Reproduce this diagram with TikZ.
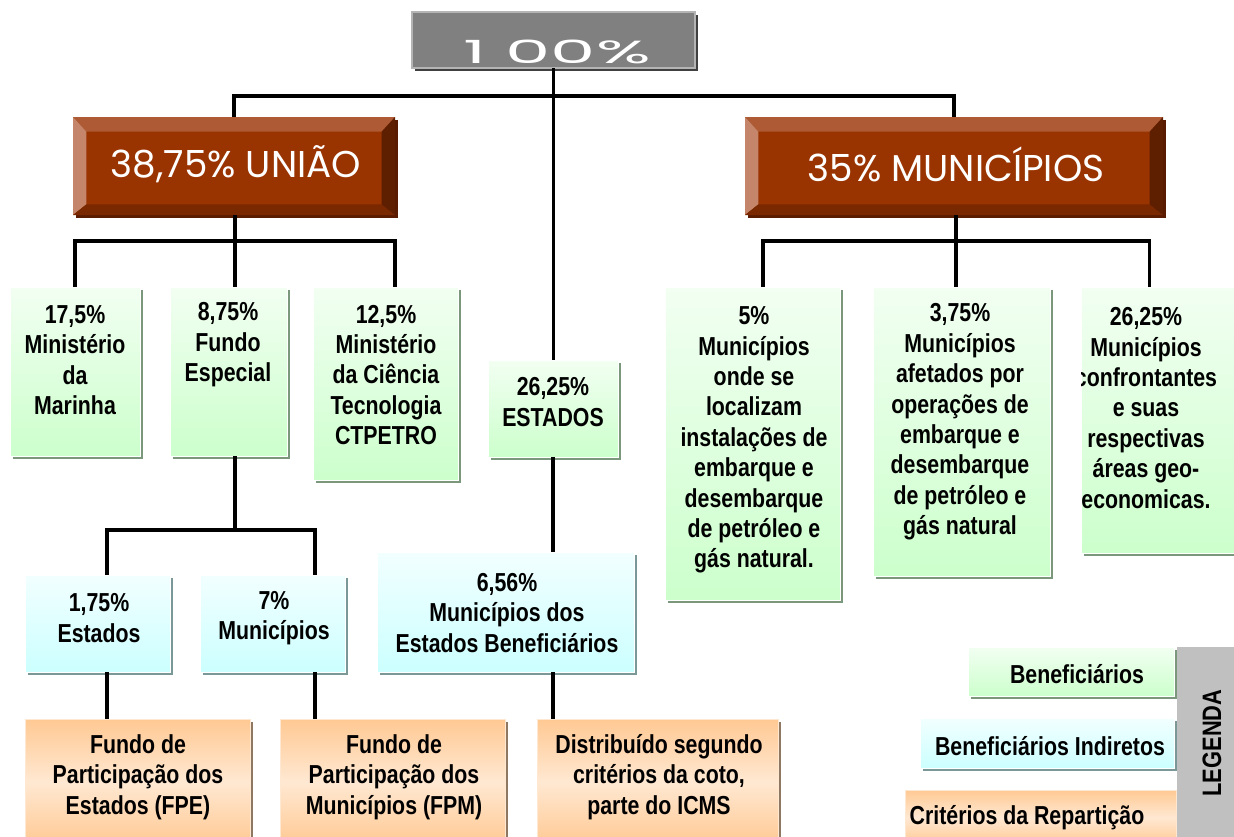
\documentclass[tikz,border=0pt]{standalone}
\usepackage{fontspec}
\usepackage{graphicx}
\setmainfont{Liberation Sans}[FakeStretch=0.82]
\newfontfamily\headfont{Poppins}
\usetikzlibrary{positioning,fit,shadows}

\definecolor{brownFace}{HTML}{993300}
\definecolor{brownTop}{HTML}{AE5A34}
\definecolor{brownLeft}{HTML}{C4856A}
\definecolor{brownBot}{HTML}{7A2800}
\definecolor{brownRight}{HTML}{5E1F00}
\definecolor{brownShadow}{HTML}{5A1C00}
\definecolor{headGray}{HTML}{808080}
\definecolor{headEdge}{HTML}{B4B4B4}
\definecolor{benefTop}{HTML}{F2FFF2}
\definecolor{benefBot}{HTML}{CCFFCC}
\definecolor{benefShadow}{HTML}{7C987C}
\definecolor{indirTop}{HTML}{F2FFFF}
\definecolor{indirBot}{HTML}{CCFFFF}
\definecolor{indirShadow}{HTML}{7A9898}
\definecolor{critTop}{HTML}{FFC993}
\definecolor{critMid}{HTML}{FFE8D2}
\definecolor{critShadow}{HTML}{8E7862}
\definecolor{legGray}{HTML}{C0C0C0}

\newcommand\pbb{path picture bounding box}

\tikzset{
  boxbase/.style={inner sep=0pt, outer sep=0pt},
  benef/.style={boxbase, top color=benefTop, bottom color=benefBot, draw=white, line width=0.6pt,
    drop shadow={shadow xshift=2.2pt, shadow yshift=-2.2pt, fill=benefShadow, opacity=1}},
  indir/.style={boxbase, top color=indirTop, bottom color=indirBot, draw=white, line width=0.6pt,
    drop shadow={shadow xshift=2.2pt, shadow yshift=-2.2pt, fill=indirShadow, opacity=1}},
  crit/.style={boxbase, top color=critTop, bottom color=critTop, middle color=critMid, draw=critMid, line width=0.6pt,
    drop shadow={shadow xshift=2.2pt, shadow yshift=-2.2pt, fill=critShadow, opacity=1}},
  headbox/.style={boxbase, fill=headGray, draw=headEdge, line width=1.5pt,
    drop shadow={shadow xshift=2.2pt, shadow yshift=-2.2pt, fill=black!75, opacity=1}},
  bevel/.style={boxbase, fill=brownFace,
    drop shadow={shadow xshift=2.2pt, shadow yshift=-2.2pt, fill=brownShadow, opacity=1},
    path picture={
      \fill[brownTop] (\pbb.north west) -- (\pbb.north east) -- ([shift={(-10pt,-11pt)}]\pbb.north east) -- ([shift={(10pt,-11pt)}]\pbb.north west) -- cycle;
      \fill[brownLeft] (\pbb.north west) -- ([shift={(10pt,-11pt)}]\pbb.north west) -- ([shift={(10pt,8pt)}]\pbb.south west) -- (\pbb.south west) -- cycle;
      \fill[brownBot] (\pbb.south west) -- ([shift={(10pt,8pt)}]\pbb.south west) -- ([shift={(-10pt,8pt)}]\pbb.south east) -- (\pbb.south east) -- cycle;
      \fill[brownRight] (\pbb.south east) -- ([shift={(-10pt,8pt)}]\pbb.south east) -- ([shift={(-10pt,-11pt)}]\pbb.north east) -- (\pbb.north east) -- cycle;
    }},
  txt/.style={font=\bfseries\fontsize{19.5}{22.8}\selectfont, align=center, inner sep=0pt},
  headtxt/.style={font=\headfont\fontsize{28}{32}\selectfont, text=white, inner sep=0pt},
  link/.style={line width=2.6pt},
}

\begin{document}
\begin{tikzpicture}[x=0.75pt, y=-0.75pt]
\useasboundingbox (0,0) rectangle (1234,836);

% cabecalho
\node[headbox, fit={(412,12) (695,68)}] (total) {};
\node[headtxt, font=\headfont\fontsize{24}{26}\selectfont] (totaltxt) at (557,52) {\scalebox{2.25}[1]{1 00\%}};

\node[bevel, fit={(73,117) (395,215)}] (uniao) {};
\node[headtxt] (uniaotxt) at (236,164) {38,75\% UNIÃO};
\node[bevel, fit={(745,117) (1163,215)}] (munic) {};
\node[headtxt] (municTxt) at (956,164) {35\% MUNICÍPIOS};

% beneficiarios
\node[benef, fit={(10,287) (140,456)}] (marinha) {};
\node[txt] (marinhaTxt) at (75,360) {17,5\%\\Ministério\\da\\Marinha};
\node[benef, fit={(170,287) (287,456)}] (especial) {};
\node[txt] (especialTxt) at (228,345) {8,75\%\\Fundo\\Especial};
\node[benef, fit={(313,287) (458,480)}] (ciencia) {};
\node[txt] (cienciaTxt) at (386,375) {12,5\%\\Ministério\\da Ciência\\Tecnologia\\CTPETRO};
\node[benef, fit={(488,360) (618,457)}] (estados) {};
\node[txt] (estadosTxt) at (553,402) {26,25\%\\ESTADOS};
\node[benef, fit={(665,287) (840,600)}] (mun5) {};
\node[txt] (mun5Txt) at (754,440) {5\%\\Municípios\\onde se\\localizam\\instalações de\\embarque e\\desembarque\\de petróleo e\\gás natural.};
\node[benef, fit={(873,287) (1050,576)}] (mun375) {};
\node[txt] (mun375Txt) at (960,422) {3,75\%\\Municípios\\afetados por\\operações de\\embarque e\\desembarque\\de petróleo e\\gás natural};
\node[benef, fit={(1081,287) (1245,553)}] (mun2625) {};
\begin{scope}
\clip (mun2625.north west) rectangle (mun2625.south east);
\node[txt] (mun2625Txt) at (1146,408) {26,25\%\\Municípios\\confrontantes\\e suas\\respectivas\\áreas geo-\\economicas.};
\end{scope}

% beneficiarios indiretos
\node[indir, fit={(25,575) (170,672)}] (est175) {};
\node[txt] (est175Txt) at (99,618) {1,75\%\\Estados};
\node[indir, fit={(200,575) (345,672)}] (mun7) {};
\node[txt] (mun7Txt) at (274,618) {7\%\\Municípios};
\node[indir, fit={(377,552) (634,672)}] (mun656) {};
\node[txt] (mun656Txt) at (507,613) {6,56\%\\Municípios dos\\Estados Beneficiários};

% criterios
\node[crit, fit={(25,719) (250,845)}] (fpe) {};
\node[txt] (fpeTxt) at (138,777) {Fundo de\\Participação dos\\Estados (FPE)};
\node[crit, fit={(280,719) (505,845)}] (fpm) {};
\node[txt] (fpmTxt) at (394,777) {Fundo de\\Participação dos\\Municípios (FPM)};
\node[crit, fit={(537,719) (778,845)}] (icms) {};
\node[txt] (icmsTxt) at (659,777) {Distribuído segundo\\critérios da coto,\\parte do ICMS};

% legenda
\node[benef, fit={(968,647) (1174,696)}] (leg1) {};
\node[txt] (leg1Txt) at (1077,674) {Beneficiários};
\node[indir, fit={(920,718) (1174,768)}] (leg2) {};
\node[txt] (leg2Txt) at (1050,746) {Beneficiários Indiretos};
\node[crit, fit={(905,790) (1176,845)}] (leg3) {};
\node[txt] (leg3Txt) at (1027,818) {Critérios da Repartição};
\node[boxbase, fill=legGray, fit={(1177,647) (1240,845)}] (legbar) {};
\node[txt, font=\bfseries\fontsize{20}{22}\selectfont, rotate=90] (legTxt) at (1212,743) {LEGENDA};

% ligacoes
\coordinate (bus1) at (553,96);
\coordinate (bus2) at (235,241);
\coordinate (bus3) at (956,241);
\coordinate (bus4) at (235,530);
\coordinate (c1) at (107,530);
\coordinate (c2) at (315,530);
\draw[link] (total.south) -- (total.south |- estados.north);
\draw[link] (uniao.north) |- (bus1) -| (munic.north);
\draw[link] (bus2 |- uniao.south) -- (bus2);
\draw[link] (marinha.north) |- (bus2) -| ([xshift=7pt]ciencia.north);
\draw[link] (bus2) -- (bus2 |- especial.north);
\draw[link] (bus3 |- munic.south) -- (bus3);
\draw[link] ([xshift=8pt]mun5.north) |- (bus3) -| ([xshift=-10pt]mun2625.north);
\draw[link] (bus3) -- (bus3 |- mun375.north);
\draw[link] (bus2 |- especial.south) -- (bus4);
\draw[link] (c1 |- est175.north) -- (c1) -- (c2) -- (c2 |- mun7.north);
\draw[link] (c1 |- est175.south) -- (c1 |- fpe.north);
\draw[link] (c2 |- mun7.south) -- (c2 |- fpm.north);
\draw[link] (bus1 |- estados.south) -- (bus1 |- mun656.north);
\draw[link] (bus1 |- mun656.south) -- (bus1 |- icms.north);
\end{tikzpicture}
\end{document}
